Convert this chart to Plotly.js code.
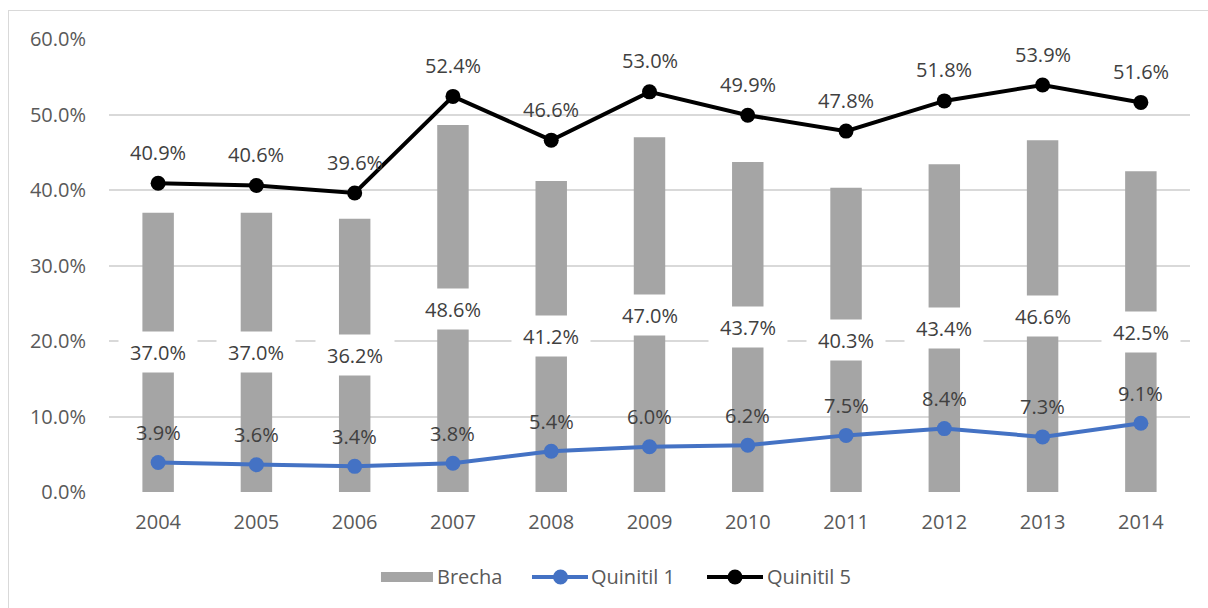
<!DOCTYPE html>
<html><head><meta charset="utf-8">
<script src="https://cdn.plot.ly/plotly-3.0.1.min.js"></script>
<style>
html,body{margin:0;padding:0;width:1208px;height:608px;overflow:hidden;background:#fff;}
#frame{position:absolute;left:8px;top:10px;width:1400px;height:800px;border:1.5px solid #d9d9d9;}
#plot{position:absolute;left:0;top:0;width:1208px;height:608px;}
</style></head>
<body>
<div id="frame"></div>
<div id="plot"></div>
<script>
const years = [2004,2005,2006,2007,2008,2009,2010,2011,2012,2013,2014];
const brecha = [37.0,37.0,36.2,48.6,41.2,47.0,43.7,40.3,43.4,46.6,42.5];
const quintil1 = [3.9,3.6,3.4,3.8,5.4,6.0,6.2,7.5,8.4,7.3,9.1];
const quintil5 = [40.9,40.6,39.6,52.4,46.6,53.0,49.9,47.8,51.8,53.9,51.6];
const seriesNames = ['Brecha','Quinitil 1','Quinitil 5'];

const FONT = 'Open Sans, Noto Sans, sans-serif';
const fmt = v => v.toFixed(1) + '%';
const BLUE = '#4472c4', GRAY = '#a5a5a5';

const traces = [
  {type:'bar', name:seriesNames[0], x:years, y:brecha, marker:{color:GRAY}, width:0.32, hoverinfo:'skip'},
  {type:'scatter', mode:'lines+markers', name:seriesNames[1], x:years, y:quintil1,
   line:{color:BLUE, width:4}, marker:{color:BLUE, size:15}},
  {type:'scatter', mode:'lines+markers', name:seriesNames[2], x:years, y:quintil5,
   line:{color:'#000000', width:4}, marker:{color:'#000000', size:15}}
];

const annotations = [];
years.forEach((yr,i)=>{
  annotations.push({x:yr, y:brecha[i]/2, text:fmt(brecha[i]), showarrow:false,
    bgcolor:'#ffffff', width:76, height:38, font:{family:FONT, size:20, color:'#404040'}});
  annotations.push({x:yr, y:quintil1[i], yshift:30, text:fmt(quintil1[i]), showarrow:false,
    font:{family:FONT, size:20, color:'#404040'}});
  annotations.push({x:yr, y:quintil5[i], yshift:31, text:fmt(quintil5[i]), showarrow:false,
    font:{family:FONT, size:20, color:'#404040'}});
});

// custom legend (layout only)
const LY = -0.1876;
const shapes = [
  {type:'rect', xref:'paper', yref:'paper', x0:0.2516, x1:0.2997, ysizemode:'pixel', yanchor:LY, y0:-5, y1:5,
   fillcolor:GRAY, line:{width:0}},
  {type:'line', xref:'paper', yref:'paper', x0:0.3913, x1:0.4431, y0:LY, y1:LY, line:{color:BLUE, width:4}},
  {type:'circle', xref:'paper', yref:'paper', xsizemode:'pixel', ysizemode:'pixel', xanchor:0.4177, yanchor:LY,
   x0:-7.5, x1:7.5, y0:-7.5, y1:7.5, fillcolor:BLUE, line:{width:0}},
  {type:'line', xref:'paper', yref:'paper', x0:0.5532, x1:0.6050, y0:LY, y1:LY, line:{color:'#000000', width:4}},
  {type:'circle', xref:'paper', yref:'paper', xsizemode:'pixel', ysizemode:'pixel', xanchor:0.5791, yanchor:LY,
   x0:-7.5, x1:7.5, y0:-7.5, y1:7.5, fillcolor:'#000000', line:{width:0}}
];
[[0.3015,seriesNames[0]],[0.4440,seriesNames[1]],[0.6065,seriesNames[2]]].forEach(([xp,t])=>{
  annotations.push({xref:'paper', yref:'paper', x:xp, y:LY, xanchor:'left', yanchor:'middle', text:t,
    showarrow:false, font:{family:FONT, size:20, color:'#595959'}});
});

const layout = {
  width:1208, height:608,
  margin:{l:109, r:18, t:39, b:116},
  paper_bgcolor:'rgba(0,0,0,0)', plot_bgcolor:'rgba(0,0,0,0)',
  font:{family:FONT, size:20, color:'#595959'},
  showlegend:false,
  xaxis:{type:'linear', range:[2003.5,2014.5], tickmode:'array', tickvals:years, ticktext:years.map(String),
    showgrid:false, zeroline:false, showline:false, ticks:'',
    tickfont:{family:FONT, size:20, color:'#595959'}, ticklabelstandoff:16},
  yaxis:{range:[0,60], dtick:10, tickformat:'.1f', ticksuffix:'%', showgrid:true,
    gridcolor:'#d9d9d9', gridwidth:2, zeroline:false, showline:false, ticks:'',
    tickfont:{family:FONT, size:20, color:'#595959'}, ticklabelstandoff:22},
  annotations:annotations,
  shapes:shapes
};

Plotly.newPlot('plot', traces, layout, {displayModeBar:false, staticPlot:true});
</script>
</body></html>
